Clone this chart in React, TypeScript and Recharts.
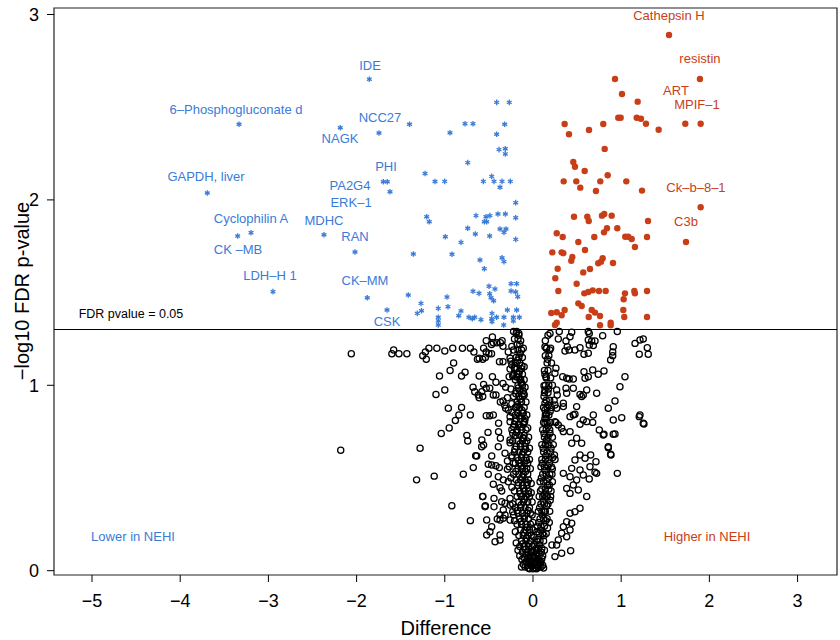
import React from 'react'
import { ScatterChart, Scatter, XAxis, YAxis, ReferenceLine, ReferenceArea, Customized } from 'recharts'

const BLUE = '#3a7bd8'
const RED = '#c83e17'
const FONT = '"Liberation Sans", Arial, Helvetica, sans-serif'

const xTicks = [-5, -4, -3, -2, -1, 0, 1, 2, 3]
const yTicks = [0, 1, 2, 3]
const xDomain = [-5.431, 3.447]
const yDomain = [-0.0232, 3.035]
const fdrCutoff = 1.30103

// significant, lower in NEHI (blue asterisks)
const lowerPoints: [number, number][] = [
  [-1.856, 2.651], [-3.333, 2.408], [-2.185, 2.389], [-1.746, 2.361], [-1.4, 2.408],
  [-3.693, 2.037], [-1.697, 2.098], [-1.652, 2.098], [-1.621, 2.044], [-1.224, 2.142],
  [-1.111, 2.099], [-1.205, 1.909], [-1.176, 1.882], [-3.197, 1.823], [-3.348, 1.805],
  [-2.37, 1.812], [-2.018, 1.719], [-1.357, 1.708], [-2.948, 1.505], [-1.879, 1.472],
  [-1.414, 1.487], [-1.655, 1.406], [-1.27, 1.442], [-1.264, 1.402], [-1.312, 1.388],
  [-1.074, 1.415], [-1.074, 1.367], [-1.074, 1.347], [-1.074, 1.325],
  [-0.412, 2.526], [-0.269, 2.526], [-0.771, 2.411], [-0.68, 2.411], [-0.321, 2.408],
  [-0.941, 2.362], [-0.412, 2.354], [-0.385, 2.271], [-0.314, 2.276], [-0.314, 2.248],
  [-0.74, 2.201], [-1.001, 2.1], [-0.563, 2.1], [-0.468, 2.127], [-0.442, 2.1],
  [-0.351, 2.1], [-0.374, 2.068], [-0.257, 2.1], [-0.196, 1.985],
  [-0.646, 1.915], [-0.533, 1.909], [-0.488, 1.915], [-0.552, 1.882], [-0.525, 1.882],
  [-0.397, 1.924], [-0.314, 1.924], [-0.196, 1.904], [-0.74, 1.847], [-0.654, 1.816],
  [-0.491, 1.805], [-0.374, 1.843], [-0.306, 1.843], [-0.329, 1.825], [-0.994, 1.801],
  [-0.816, 1.771], [-0.196, 1.787], [-0.918, 1.707], [-0.601, 1.676], [-0.552, 1.629],
  [-0.351, 1.688], [-0.329, 1.667], [-0.975, 1.476], [-0.68, 1.507], [-0.612, 1.496],
  [-0.499, 1.534], [-0.431, 1.519], [-0.491, 1.494], [-0.476, 1.472], [-0.446, 1.456],
  [-0.249, 1.548], [-0.185, 1.548], [-0.249, 1.509], [-0.196, 1.503], [-0.173, 1.478],
  [-0.964, 1.424], [-0.842, 1.375], [-0.816, 1.401], [-0.726, 1.367], [-0.688, 1.359],
  [-0.661, 1.367], [-0.59, 1.354], [-0.465, 1.388], [-0.468, 1.359], [-0.465, 1.343],
  [-0.412, 1.367], [-0.329, 1.367], [-0.332, 1.325], [-0.291, 1.406], [-0.185, 1.406],
  [-0.223, 1.367], [-0.155, 1.367], [-0.223, 1.347],
]

// significant, higher in NEHI (red dots)
const higherPoints: [number, number][] = [
  [1.542, 2.889], [1.893, 2.652], [0.93, 2.652], [1.009, 2.571], [1.187, 2.53],
  [1.727, 2.411], [1.901, 2.411], [0.967, 2.443], [0.994, 2.443], [1.176, 2.443],
  [1.224, 2.438], [1.281, 2.411], [1.425, 2.378], [0.359, 2.409], [0.408, 2.354],
  [0.635, 2.377], [0.797, 2.409], [0.813, 2.275], [0.457, 2.204], [0.476, 2.179],
  [0.586, 2.156], [0.348, 2.1], [0.491, 2.1], [0.536, 2.066], [0.763, 2.1],
  [0.847, 2.133], [0.714, 2.048], [1.058, 2.1], [1.236, 2.05], [1.901, 1.96],
  [1.735, 1.773], [0.465, 1.909], [0.616, 1.909], [0.632, 1.886], [0.782, 1.915],
  [0.808, 1.924], [0.892, 1.915], [1.304, 1.886], [0.269, 1.82], [0.337, 1.8],
  [0.514, 1.773], [0.695, 1.8], [0.805, 1.825], [0.839, 1.847], [0.956, 1.847],
  [1.046, 1.801], [1.08, 1.801], [1.119, 1.789], [1.293, 1.8], [1.156, 1.746],
  [0.219, 1.717], [0.325, 1.717], [0.344, 1.712], [0.59, 1.73], [0.446, 1.692],
  [0.434, 1.672], [0.79, 1.685], [0.771, 1.667], [0.74, 1.658], [0.907, 1.66],
  [0.28, 1.629], [0.253, 1.577], [0.57, 1.609], [0.646, 1.627], [0.495, 1.548],
  [0.287, 1.509], [0.582, 1.496], [0.627, 1.503], [0.677, 1.512], [0.748, 1.509],
  [0.824, 1.509], [1.043, 1.496], [1.028, 1.464], [1.149, 1.509], [1.156, 1.496],
  [1.293, 1.509], [0.514, 1.442], [0.552, 1.428], [0.207, 1.39], [0.269, 1.394],
  [0.325, 1.378], [0.359, 1.406], [0.666, 1.406], [0.703, 1.392], [0.76, 1.374],
  [0.632, 1.368], [1.024, 1.406], [1.035, 1.368], [1.293, 1.368], [0.249, 1.325],
  [0.269, 1.338], [0.76, 1.324], [0.881, 1.338], [0.881, 1.324],
]

// not significant, left of zero
const nsLeft: [number, number][] = [
  [-2.18, 0.65], [-2.06, 1.17], [-1.58, 1.19], [-1.6, 1.17], [-1.52, 1.17], [-1.43, 1.17],
  [-1.25, 1.16], [-1.21, 1.14], [-1.22, 1.18], [-1.18, 1.2], [-1.09, 1.2], [-1.0, 1.185],
  [-0.91, 1.2], [-0.8, 1.2], [-0.71, 1.2], [-0.67, 1.18], [-1.06, 1.05], [-0.94, 1.08],
  [-0.9, 1.12], [-0.77, 1.07], [-0.81, 1.05], [-1.1, 0.95], [-1.0, 0.975], [-0.96, 0.876],
  [-0.81, 0.88], [-0.84, 0.84], [-0.88, 0.81], [-0.71, 0.84], [-0.95, 0.77], [-1.04, 0.74],
  [-0.75, 0.73], [-0.74, 0.7], [-1.28, 0.66], [-1.32, 0.49], [-1.12, 0.51], [-0.79, 0.52],
  [-0.92, 0.35], [-0.71, 0.27], [-0.65, 0.62], [-0.57, 0.4], [-0.54, 0.35],
  [-0.53, 1.24], [-0.46, 1.26], [-0.45, 1.23], [-0.37, 1.23], [-0.34, 1.21], [-0.56, 1.2],
  [-0.63, 1.14], [-0.57, 1.14], [-0.54, 1.15], [-0.5, 1.17], [-0.47, 1.17], [-0.53, 1.18],
  [-0.68, 0.99], [-0.66, 0.965], [-0.62, 0.948], [-0.58, 0.965], [-0.57, 0.94], [-0.61, 0.933],
  [-0.56, 1.005], [-0.53, 0.984], [-0.49, 0.984], [-0.45, 0.948], [-0.42, 0.948],
  [-0.61, 1.05], [-0.46, 1.046], [-0.42, 1.016], [-0.34, 1.01], [-0.31, 0.99], [-0.27, 1.046],
  [-0.22, 1.055], [-0.18, 1.06], [-0.15, 1.034], [-0.13, 1.01], [-0.1, 0.948],
  [-0.38, 1.127], [-0.34, 1.127], [-0.26, 1.146], [-0.28, 1.18], [-0.24, 1.11], [-0.21, 1.095],
  [-0.26, 1.088], [-0.61, 1.146], [-0.41, 1.23], [-0.35, 1.24], [-0.47, 1.22],
  [-0.22, 1.29], [-0.185, 1.29], [-0.16, 1.28],
  [-0.37, 0.91], [-0.34, 0.915], [-0.32, 0.893], [-0.29, 0.933], [-0.31, 0.876], [-0.28, 0.867],
  [-0.24, 0.854], [-0.185, 0.885], [-0.53, 0.836], [-0.49, 0.836], [-0.45, 0.84], [-0.39, 0.795],
  [-0.26, 0.804], [-0.2, 0.84], [-0.11, 0.849], [-0.22, 0.777], [-0.165, 0.786], [-0.102, 0.8],
  [-0.23, 0.741], [-0.185, 0.746], [-0.11, 0.717], [-0.26, 0.705], [-0.09, 0.687],
  [-0.58, 0.705], [-0.56, 0.678], [-0.51, 0.746], [-0.39, 0.75], [-0.37, 0.714],
  [-0.677, 0.556], [-0.638, 0.619], [-0.582, 0.669], [-0.468, 0.619], [-0.507, 0.574],
  [-0.468, 0.57], [-0.42, 0.566], [-0.382, 0.556], [-0.393, 0.669], [-0.317, 0.633],
  [-0.29, 0.592], [-0.24, 0.61], [-0.223, 0.58], [-0.29, 0.547], [-0.507, 0.52],
  [-0.393, 0.507], [-0.337, 0.49], [-0.28, 0.48], [-0.45, 0.466], [-0.374, 0.448],
  [-0.355, 0.43], [-0.57, 0.4], [-0.442, 0.39], [-0.544, 0.345], [-0.442, 0.345],
  [-0.355, 0.372], [-0.317, 0.364], [-0.26, 0.354], [-0.337, 0.327], [-0.23, 0.318],
  [-0.374, 0.3], [-0.405, 0.279], [-0.374, 0.273], [-0.337, 0.283], [-0.317, 0.3],
  [-0.26, 0.273], [-0.525, 0.273], [-0.468, 0.237], [-0.488, 0.21], [-0.525, 0.193],
  [-0.43, 0.156], [-0.374, 0.193], [-0.374, 0.165],
]

// not significant, right of zero
const nsRight: [number, number][] = [
  [0.298, 1.29], [0.439, 1.286], [0.42, 1.262], [0.627, 1.29], [0.638, 1.28], [0.79, 1.267],
  [0.956, 1.29], [0.193, 1.28], [0.287, 1.25], [0.136, 1.208], [0.155, 1.2], [0.2, 1.2],
  [0.374, 1.239], [0.389, 1.208], [0.41, 1.19], [0.363, 1.185], [0.476, 1.19], [0.533, 1.203],
  [0.578, 1.167], [0.627, 1.173], [0.638, 1.217], [0.684, 1.214], [0.666, 1.239], [0.703, 1.239],
  [0.627, 1.244], [0.91, 1.208], [0.904, 1.18], [0.904, 1.16], [0.88, 1.137], [1.157, 1.226],
  [1.213, 1.244], [1.25, 1.25], [1.296, 1.203], [1.205, 1.167], [1.307, 1.167],
  [0.147, 1.046], [0.125, 0.998], [0.136, 0.975], [0.249, 1.065], [0.26, 1.092], [0.337, 1.046],
  [0.382, 1.038], [0.41, 1.034], [0.457, 1.034], [0.268, 0.975], [0.275, 0.948], [0.374, 0.984],
  [0.382, 0.957], [0.457, 0.984], [0.533, 0.951], [0.552, 0.939], [0.57, 0.948], [0.609, 0.975],
  [0.59, 1.038], [0.627, 1.046], [0.578, 1.073], [0.677, 1.083], [0.74, 1.06], [0.805, 1.077],
  [1.043, 1.046], [0.986, 0.992], [0.722, 0.957],
  [0.136, 0.903], [0.174, 0.894], [0.136, 0.867], [0.155, 0.844], [0.147, 0.822], [0.136, 0.795],
  [0.249, 0.894], [0.268, 0.876], [0.344, 0.885], [0.344, 0.903], [0.495, 0.885], [0.42, 0.831],
  [0.457, 0.84], [0.476, 0.844], [0.684, 0.84], [0.57, 0.813], [0.609, 0.804], [0.533, 0.79],
  [0.677, 0.8], [0.854, 0.876], [0.93, 0.915], [1.006, 0.825], [0.91, 0.813], [1.213, 0.84],
  [1.25, 0.795], [0.752, 0.759], [0.805, 0.736], [0.91, 0.736], [0.249, 0.804], [0.287, 0.786],
  [0.325, 0.768], [0.344, 0.75], [0.193, 0.741], [0.42, 0.75], [0.495, 0.714], [0.552, 0.687],
  [0.439, 0.687], [0.155, 0.705], [0.854, 0.669],
  [1.205, 0.831], [1.258, 0.791], [0.93, 0.737], [0.797, 0.732], [0.884, 0.624], [0.714, 0.588],
  [0.722, 0.525], [0.956, 0.525], [0.609, 0.4], [0.427, 0.108],
  [0.854, 0.663], [0.88, 0.628], [0.703, 0.531], [0.638, 0.495], [0.646, 0.561], [0.59, 0.606],
  [0.533, 0.624], [0.654, 0.624], [0.476, 0.597], [0.439, 0.552], [0.533, 0.543], [0.57, 0.516],
  [0.495, 0.489], [0.42, 0.507], [0.344, 0.525], [0.457, 0.462], [0.382, 0.444], [0.42, 0.417],
  [0.514, 0.435], [0.533, 0.337], [0.476, 0.318], [0.42, 0.31], [0.439, 0.256], [0.382, 0.264],
  [0.344, 0.237], [0.42, 0.22], [0.325, 0.202], [0.382, 0.183], [0.287, 0.166], [0.325, 0.094],
  [0.249, 0.076], [0.268, 0.139], [0.215, 0.139],
]

// not significant, dense "V" around zero
const nsCore: [number, number][] = [
  [-0.19, 1.28], [-0.16, 1.27], [-0.21, 1.25], [-0.17, 1.25], [-0.14, 1.24], [-0.18, 1.22],
  [-0.15, 1.22], [-0.22, 1.19], [-0.17, 1.19], [-0.13, 1.19], [-0.19, 1.15], [-0.16, 1.15],
  [-0.12, 1.15], [-0.2, 1.12], [-0.15, 1.12], [-0.18, 1.09], [-0.13, 1.09], [-0.21, 1.09],
  [-0.16, 1.06], [-0.12, 1.06], [-0.2, 1.03], [-0.14, 1.03], [-0.1, 1.03], [-0.17, 1.0],
  [-0.12, 1.0], [-0.19, 0.97], [-0.15, 0.97], [-0.11, 0.97], [-0.22, 0.94], [-0.16, 0.94],
  [-0.12, 0.94], [-0.18, 0.91], [-0.13, 0.91], [-0.2, 0.88], [-0.15, 0.88], [-0.1, 0.88],
  [-0.17, 0.85], [-0.12, 0.85], [-0.19, 0.82], [-0.14, 0.82], [-0.09, 0.82], [-0.21, 0.79],
  [-0.16, 0.79], [-0.11, 0.79], [-0.18, 0.76], [-0.13, 0.76], [-0.08, 0.76], [-0.2, 0.73],
  [-0.15, 0.73], [-0.1, 0.73], [-0.23, 0.7], [-0.17, 0.7], [-0.12, 0.7], [-0.07, 0.7],
  [-0.19, 0.67], [-0.14, 0.67], [-0.09, 0.67], [-0.21, 0.64], [-0.16, 0.64], [-0.11, 0.64],
  [-0.06, 0.64], [-0.18, 0.61], [-0.13, 0.61], [-0.08, 0.61], [-0.2, 0.58], [-0.15, 0.58],
  [-0.1, 0.58], [-0.06, 0.58], [-0.17, 0.55], [-0.12, 0.55], [-0.07, 0.55], [-0.22, 0.52],
  [-0.16, 0.52], [-0.11, 0.52], [-0.06, 0.52], [-0.19, 0.49], [-0.14, 0.49], [-0.09, 0.49],
  [-0.05, 0.49], [-0.17, 0.46], [-0.12, 0.46], [-0.07, 0.46], [-0.21, 0.43], [-0.15, 0.43],
  [-0.1, 0.43], [-0.05, 0.43], [-0.18, 0.4], [-0.13, 0.4], [-0.08, 0.4], [-0.04, 0.4],
  [-0.16, 0.37], [-0.11, 0.37], [-0.06, 0.37], [-0.2, 0.34], [-0.14, 0.34], [-0.09, 0.34],
  [-0.04, 0.34], [-0.17, 0.31], [-0.12, 0.31], [-0.07, 0.31], [-0.03, 0.31], [-0.15, 0.28],
  [-0.1, 0.28], [-0.05, 0.28], [-0.18, 0.25], [-0.13, 0.25], [-0.08, 0.25], [-0.03, 0.25],
  [-0.14, 0.22], [-0.09, 0.22], [-0.04, 0.22], [-0.16, 0.19], [-0.11, 0.19], [-0.06, 0.19],
  [-0.02, 0.19], [-0.13, 0.16], [-0.08, 0.16], [-0.03, 0.16], [-0.15, 0.13], [-0.1, 0.13],
  [-0.05, 0.13], [-0.01, 0.13], [-0.12, 0.1], [-0.07, 0.1], [-0.02, 0.1], [-0.1, 0.07],
  [-0.05, 0.07], [0.0, 0.07], [-0.08, 0.05], [-0.03, 0.05], [0.02, 0.05], [-0.06, 0.03],
  [-0.02, 0.03], [0.03, 0.03], [-0.04, 0.01], [0.0, 0.01], [0.04, 0.01],
  [0.15, 1.2], [0.19, 1.19], [0.14, 1.16], [0.18, 1.16], [0.16, 1.12], [0.21, 1.12],
  [0.13, 1.08], [0.17, 1.08], [0.15, 1.04], [0.2, 1.04], [0.14, 1.0], [0.18, 1.0],
  [0.22, 1.0], [0.13, 0.96], [0.17, 0.96], [0.15, 0.92], [0.19, 0.92], [0.24, 0.92],
  [0.12, 0.88], [0.16, 0.88], [0.21, 0.88], [0.14, 0.84], [0.18, 0.84], [0.12, 0.8],
  [0.16, 0.8], [0.2, 0.8], [0.26, 0.8], [0.11, 0.76], [0.15, 0.76], [0.19, 0.76],
  [0.13, 0.72], [0.17, 0.72], [0.22, 0.72], [0.1, 0.68], [0.14, 0.68], [0.18, 0.68],
  [0.23, 0.68], [0.12, 0.64], [0.16, 0.64], [0.2, 0.64], [0.1, 0.6], [0.14, 0.6],
  [0.18, 0.6], [0.25, 0.6], [0.09, 0.56], [0.13, 0.56], [0.17, 0.56], [0.21, 0.56],
  [0.11, 0.52], [0.15, 0.52], [0.19, 0.52], [0.08, 0.48], [0.12, 0.48], [0.16, 0.48],
  [0.22, 0.48], [0.1, 0.44], [0.14, 0.44], [0.18, 0.44], [0.07, 0.4], [0.11, 0.4],
  [0.15, 0.4], [0.2, 0.4], [0.09, 0.36], [0.13, 0.36], [0.17, 0.36], [0.06, 0.32],
  [0.1, 0.32], [0.14, 0.32], [0.19, 0.32], [0.08, 0.28], [0.12, 0.28], [0.16, 0.28],
  [0.05, 0.24], [0.09, 0.24], [0.13, 0.24], [0.07, 0.2], [0.11, 0.2], [0.15, 0.2],
  [0.04, 0.16], [0.08, 0.16], [0.12, 0.16], [0.06, 0.12], [0.1, 0.12], [0.03, 0.08],
  [0.07, 0.08], [0.11, 0.08], [0.05, 0.05], [0.08, 0.05], [0.06, 0.02], [0.09, 0.02],
]

// more of the crowded core, filling the arms and the blob at the bottom
const nsCoreFill: [number, number][] = [
  [-0.24, 1.21], [-0.11, 1.2], [-0.25, 1.13], [-0.1, 1.1], [-0.23, 1.05], [-0.09, 0.99],
  [-0.25, 0.98], [-0.24, 0.9], [-0.08, 0.91], [-0.26, 0.83], [-0.07, 0.84], [-0.24, 0.76],
  [-0.06, 0.77], [-0.26, 0.69], [-0.05, 0.72], [-0.24, 0.62], [-0.04, 0.66], [-0.27, 0.56],
  [-0.04, 0.6], [-0.25, 0.5], [-0.03, 0.55], [-0.24, 0.45], [-0.02, 0.47], [-0.26, 0.39],
  [-0.02, 0.42], [-0.23, 0.36], [-0.01, 0.37], [-0.22, 0.3], [-0.01, 0.3], [-0.21, 0.27],
  [0.0, 0.26], [-0.2, 0.21], [0.0, 0.22], [-0.19, 0.15], [0.01, 0.18], [-0.17, 0.11],
  [0.01, 0.14], [-0.15, 0.08], [0.02, 0.11],
  [-0.145, 1.17], [-0.175, 1.135], [-0.125, 1.105], [-0.155, 1.075], [-0.185, 1.045],
  [-0.135, 1.015], [-0.165, 0.985], [-0.195, 0.955], [-0.105, 0.955], [-0.145, 0.925],
  [-0.175, 0.895], [-0.125, 0.865], [-0.155, 0.835], [-0.205, 0.805], [-0.095, 0.805],
  [-0.135, 0.775], [-0.185, 0.745], [-0.115, 0.715], [-0.145, 0.685], [-0.205, 0.655],
  [-0.085, 0.655], [-0.125, 0.625], [-0.165, 0.595], [-0.075, 0.595], [-0.135, 0.565],
  [-0.195, 0.535], [-0.085, 0.535], [-0.125, 0.505], [-0.165, 0.475], [-0.065, 0.475],
  [-0.105, 0.445], [-0.145, 0.415], [-0.055, 0.415], [-0.095, 0.385], [-0.135, 0.355],
  [-0.175, 0.325], [-0.055, 0.325], [-0.095, 0.295], [-0.135, 0.265], [-0.065, 0.235],
  [-0.105, 0.205], [-0.035, 0.205], [-0.075, 0.175], [-0.115, 0.145], [-0.045, 0.145],
  [-0.085, 0.115], [-0.035, 0.085], [-0.125, 0.06],
  [-0.11, 0.035], [-0.09, 0.02], [-0.07, 0.045], [-0.05, 0.015], [-0.03, 0.04], [-0.01, 0.025],
  [0.01, 0.045], [0.03, 0.015], [0.05, 0.035], [0.07, 0.025], [0.09, 0.045], [0.11, 0.03],
  [-0.06, 0.065], [-0.02, 0.075], [0.02, 0.07], [0.04, 0.095], [0.0, 0.1], [-0.13, 0.02],
  [0.1, 0.065], [0.12, 0.015], [-0.08, 0.09], [0.06, 0.06],
  [0.035, 0.12], [0.055, 0.17], [0.075, 0.14], [0.095, 0.1], [0.13, 0.11], [0.045, 0.21],
  [0.085, 0.22], [0.125, 0.19], [0.165, 0.23], [0.065, 0.26], [0.105, 0.3], [0.145, 0.27],
  [0.185, 0.26], [0.075, 0.34], [0.115, 0.37], [0.155, 0.35], [0.195, 0.38], [0.085, 0.43],
  [0.125, 0.41], [0.165, 0.46], [0.205, 0.43], [0.095, 0.5], [0.135, 0.54], [0.175, 0.5],
  [0.215, 0.52], [0.105, 0.58], [0.145, 0.62], [0.185, 0.58], [0.225, 0.61], [0.115, 0.66],
  [0.155, 0.7], [0.205, 0.66], [0.125, 0.74], [0.175, 0.78], [0.135, 0.82], [0.195, 0.86],
  [0.125, 0.94], [0.175, 0.98], [0.135, 1.06], [0.165, 1.14], [0.14, 1.24], [0.17, 1.27],
  [0.128, 0.318], [0.162, 0.402], [0.186, 0.463], [0.219, 0.548], [0.243, 0.624],
]

const lowerLabels: [string, number, number][] = [
  ['IDE', -1.848, 2.727],
  ['6\u2013Phosphogluconate d', -3.367, 2.485],
  ['NCC27', -1.735, 2.442],
  ['NAGK', -2.188, 2.329],
  ['PHI', -1.667, 2.178],
  ['GAPDH, liver', -3.707, 2.124],
  ['PA2G4', -2.075, 2.075],
  ['ERK\u20131', -2.063, 1.984],
  ['Cyclophilin A', -3.197, 1.898],
  ['MDHC', -2.37, 1.887],
  ['RAN', -2.018, 1.801],
  ['CK \u2013MB', -3.345, 1.731],
  ['LDH\u2013H 1', -2.982, 1.59],
  ['CK\u2013MM', -1.905, 1.563],
  ['CSK', -1.655, 1.342],
  ['Lower in NEHI', -4.535, 0.182],
]

const higherLabels: [string, number, number][] = [
  ['Cathepsin H', 1.542, 2.995],
  ['resistin', 1.893, 2.763],
  ['ART', 1.621, 2.592],
  ['MPIF\u20131', 1.859, 2.517],
  ['Ck\u2013b\u20138\u20131', 1.848, 2.069],
  ['C3b', 1.735, 1.886],
  ['Higher in NEHI', 1.973, 0.182],
]

const cutoffLabels: [string, number, number][] = [
  ['FDR pvalue = 0.05', -4.558, 1.382],
]

const toXY = (pts: [number, number][]) => pts.map(([x, y]) => ({ x, y }))
const toLabels = (pts: [string, number, number][]) => pts.map(([name, x, y]) => ({ x, y, name }))

const OpenCircle = (p: any) => (
  <circle cx={p.cx} cy={p.cy} r={3.1} fill="none" stroke="#000" strokeWidth={1.25} />
)

const RedDot = (p: any) => <circle cx={p.cx} cy={p.cy} r={3.2} fill={RED} />

const Asterisk = (p: any) => {
  const { cx, cy } = p
  const r = 2.8
  return (
    <g stroke={BLUE} strokeWidth={1.3}>
      <line x1={cx} y1={cy - r} x2={cx} y2={cy + r} />
      <line x1={cx - r * 0.87} y1={cy - r * 0.5} x2={cx + r * 0.87} y2={cy + r * 0.5} />
      <line x1={cx - r * 0.87} y1={cy + r * 0.5} x2={cx + r * 0.87} y2={cy - r * 0.5} />
    </g>
  )
}

const makeText = (color: string, size: number) => (p: any) => (
  <text
    x={p.cx}
    y={p.cy}
    fill={color}
    fontSize={size}
    fontFamily={FONT}
    textAnchor="middle"
    dominantBaseline="central"
  >
    {p.payload.name}
  </text>
)

const fmt = (v: number) => (v < 0 ? '\u2212' + Math.abs(v) : String(v))

export default function App() {
  return (
    <div style={{ position: 'absolute', left: 0, top: 0, width: 840, height: 640, background: '#fff' }}>
      <ScatterChart
        width={840}
        height={640}
        margin={{ top: 8, right: 3, bottom: 0, left: 0 }}
        style={{ fontFamily: FONT }}
      >
        <XAxis
          type="number"
          dataKey="x"
          domain={xDomain}
          ticks={xTicks}
          allowDataOverflow
          height={65}
          axisLine={false}
          tickLine={{ stroke: '#000' }}
          tickSize={7}
          tickMargin={12}
          tickFormatter={fmt}
          tick={{ fill: '#000', fontSize: 18, fontFamily: FONT }}
        />
        <YAxis
          type="number"
          dataKey="y"
          domain={yDomain}
          ticks={yTicks}
          allowDataOverflow
          width={54}
          axisLine={false}
          tickLine={{ stroke: '#000' }}
          tickSize={7}
          tickMargin={8}
          tick={{ fill: '#000', fontSize: 18, fontFamily: FONT }}
        />
        <ReferenceArea
          x1={xDomain[0]}
          x2={xDomain[1]}
          y1={yDomain[0]}
          y2={yDomain[1]}
          fill="none"
          stroke="#222"
          strokeWidth={1.2}
          fillOpacity={0}
        />
        <ReferenceLine y={fdrCutoff} stroke="#000" strokeWidth={1.2} />
        <Scatter data={toXY(nsLeft)} shape={OpenCircle} isAnimationActive={false} />
        <Scatter data={toXY(nsRight)} shape={OpenCircle} isAnimationActive={false} />
        <Scatter data={toXY(nsCore)} shape={OpenCircle} isAnimationActive={false} />
        <Scatter data={toXY(nsCoreFill)} shape={OpenCircle} isAnimationActive={false} />
        <Scatter data={toXY(higherPoints)} shape={RedDot} isAnimationActive={false} />
        <Scatter data={toXY(lowerPoints)} shape={Asterisk} isAnimationActive={false} />
        <Scatter data={toLabels(lowerLabels)} shape={makeText(BLUE, 13)} isAnimationActive={false} />
        <Scatter data={toLabels(higherLabels)} shape={makeText(RED, 13)} isAnimationActive={false} />
        <Scatter data={toLabels(cutoffLabels)} shape={makeText('#000', 12.5)} isAnimationActive={false} />
        <Customized
          component={() => (
            <g fontFamily={FONT} fill="#000">
              <text x={446} y={628} fontSize={20} textAnchor="middle" dominantBaseline="central">
                Difference
              </text>
              <text
                transform="rotate(-90)"
                x={-291}
                y={22}
                fontSize={20}
                textAnchor="middle"
                dominantBaseline="central"
              >
                {'\u2212log10 FDR p-value'}
              </text>
            </g>
          )}
        />
      </ScatterChart>
    </div>
  )
}
